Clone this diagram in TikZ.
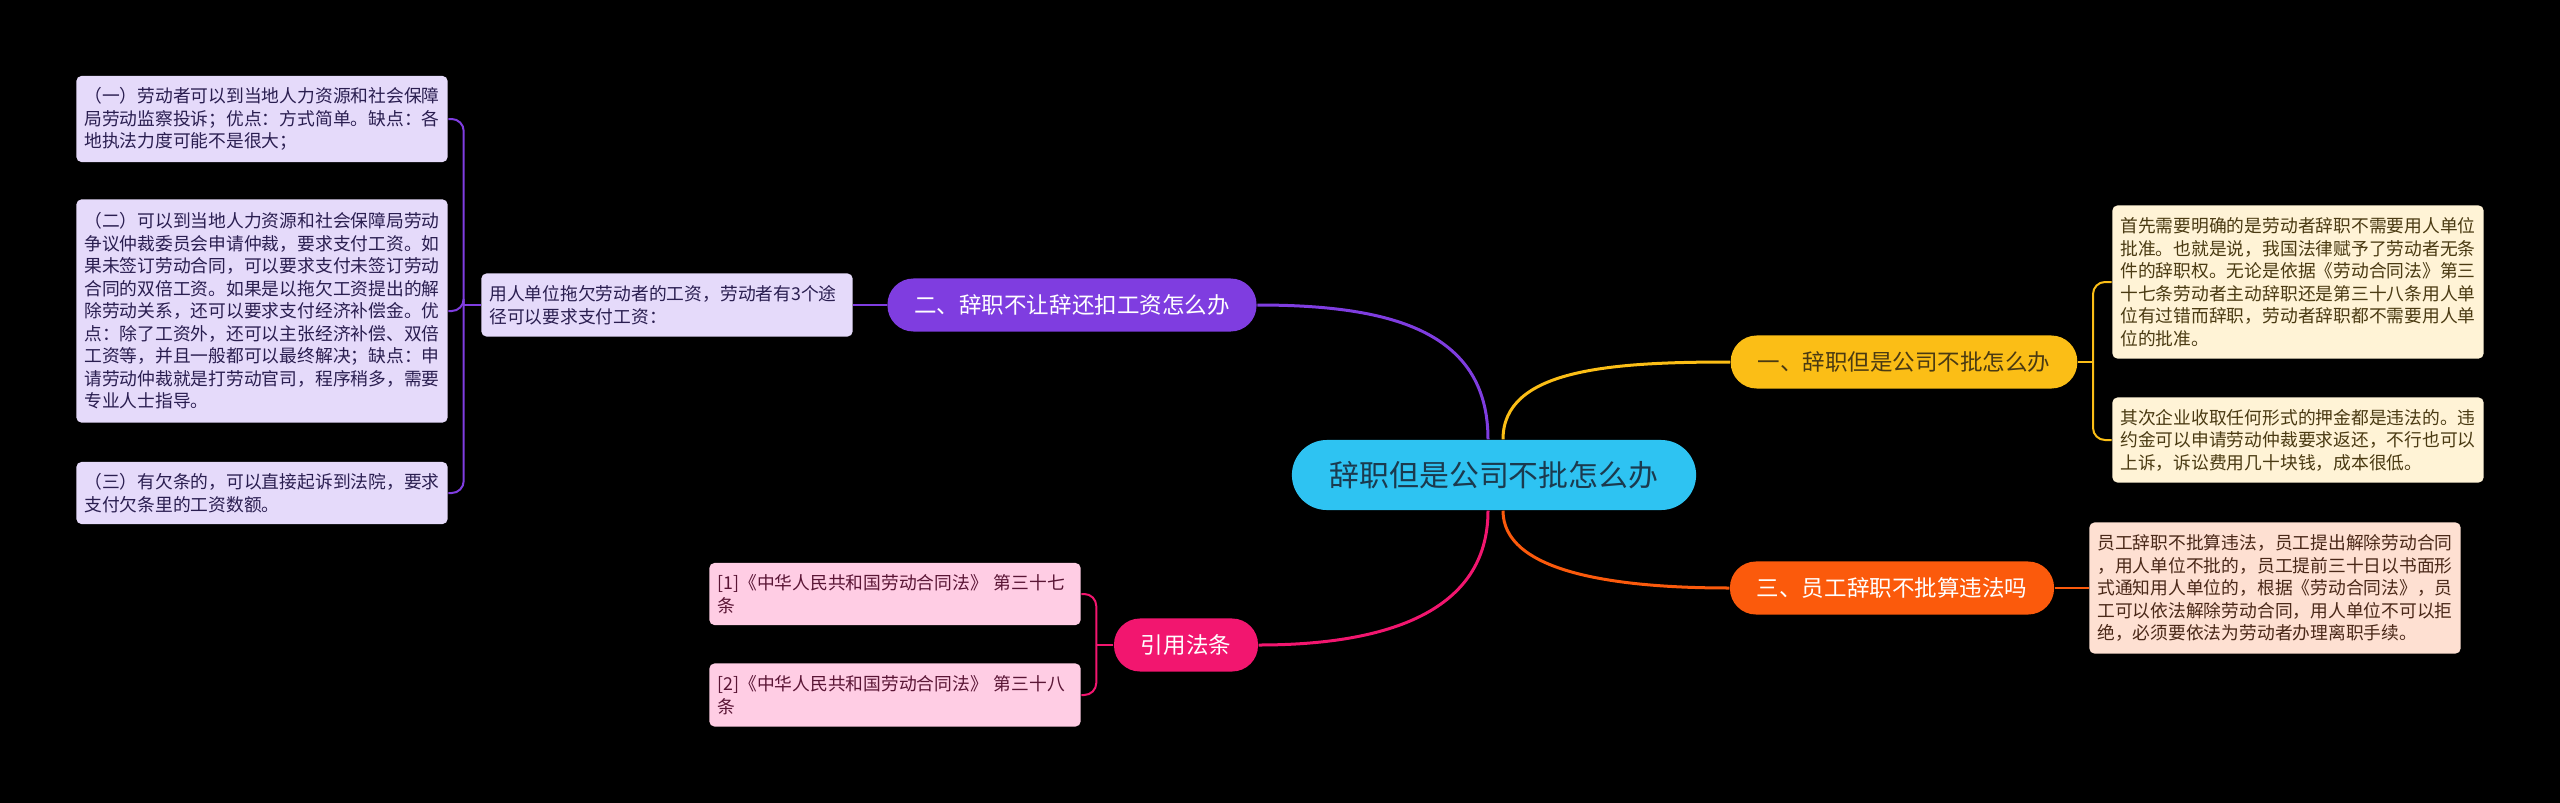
\documentclass[tikz,border=0pt]{standalone}
\usepackage{fontspec}
\setmainfont{Noto Sans CJK SC}
\usepackage{tikz}
\usetikzlibrary{calc}
\definecolor{rootcyan}{HTML}{2EC3F2}
\definecolor{roottext}{HTML}{1B3A4E}
\definecolor{branchgold}{HTML}{FBBE16}
\definecolor{branchviolet}{HTML}{7F3DE0}
\definecolor{branchflame}{HTML}{FB5A0C}
\definecolor{branchrose}{HTML}{F2166F}
\definecolor{leafviolet}{HTML}{E5DAFA}
\definecolor{leafgold}{HTML}{FFF3D6}
\definecolor{leafflame}{HTML}{FEE0D2}
\definecolor{leafrose}{HTML}{FFCDE4}
\definecolor{inkviolet}{HTML}{2A1E50}
\definecolor{inkgold}{HTML}{4A3A12}
\definecolor{inkflame}{HTML}{4A2818}
\definecolor{inkrose}{HTML}{5A1535}

\begin{document}
\begin{tikzpicture}[x=0.01cm,y=-0.01cm]

%--------------------------------------------------
% STYLES
%--------------------------------------------------

\tikzset{
rootnode/.style={
fill=rootcyan,
text=roottext,
rounded corners=0.35cm,
minimum width=4.04cm,
minimum height=0.70cm,
inner sep=0pt,
font=\fontsize{8.5}{10}\selectfont
},
branchnode/.style={
rounded corners=0.26cm,
minimum height=0.53cm,
inner xsep=0.27cm,
inner ysep=0pt,
text=white,
font=\fontsize{6.4}{7.5}\selectfont
},
leafnode/.style={
rounded corners=0.05cm,
text width=3.55cm,
inner xsep=0.08cm,
inner ysep=0.03cm,
align=left,
font=\fontsize{5.05}{6.4}\selectfont
},
link/.style={line width=0.03cm},
sublink/.style={line width=0.02cm,rounded corners=0.12cm}
}

%--------------------------------------------------
% FRAME
%--------------------------------------------------

\fill[black] (0,0) rectangle (2560,803);
\useasboundingbox (0,0) rectangle (2560,803);

%--------------------------------------------------
% ROOT AND BRANCHES
%--------------------------------------------------

\node[rootnode] (root) at (1494,475)
{辞职但是公司不批怎么办};

\node[branchnode,fill=branchgold,text=inkgold] (b1) at (1904,362)
{一、辞职但是公司不批怎么办};

\node[branchnode,fill=branchviolet] (b2) at (1072,305)
{二、辞职不让辞还扣工资怎么办};

\node[branchnode,fill=branchflame] (b3) at (1892,588)
{三、员工辞职不批算违法吗};

\node[branchnode,fill=branchrose] (b4) at (1186,645)
{引用法条};

%--------------------------------------------------
% LEAVES, RIGHT
%--------------------------------------------------

\node[leafnode,fill=leafgold,text=inkgold,minimum height=1.53cm] (y1) at (2298,282)
{首先需要明确的是劳动者辞职不需要用人单位\\
批准。也就是说，我国法律赋予了劳动者无条\\
件的辞职权。无论是依据《劳动合同法》第三\\
十七条劳动者主动辞职还是第三十八条用人单\\
位有过错而辞职，劳动者辞职都不需要用人单\\
位的批准。};

\node[leafnode,fill=leafgold,text=inkgold,minimum height=0.85cm] (y2) at (2298,440)
{其次企业收取任何形式的押金都是违法的。违\\
约金可以申请劳动仲裁要求返还，不行也可以\\
上诉，诉讼费用几十块钱，成本很低。};

\node[leafnode,fill=leafflame,text=inkflame,minimum height=1.31cm] (o1) at (2275,588)
{员工辞职不批算违法，员工提出解除劳动合同\\
，用人单位不批的，员工提前三十日以书面形\\
式通知用人单位的，根据《劳动合同法》，员\\
工可以依法解除劳动合同，用人单位不可以拒\\
绝，必须要依法为劳动者办理离职手续。};

%--------------------------------------------------
% LEAVES, LEFT
%--------------------------------------------------

\node[leafnode,fill=leafviolet,text=inkviolet,minimum height=0.63cm] (m1) at (667,305)
{用人单位拖欠劳动者的工资，劳动者有3个途\\
径可以要求支付工资：};

\node[leafnode,fill=leafviolet,text=inkviolet,minimum height=0.86cm] (p1) at (262,119)
{（一）劳动者可以到当地人力资源和社会保障\\
局劳动监察投诉；优点：方式简单。缺点：各\\
地执法力度可能不是很大；};

\node[leafnode,fill=leafviolet,text=inkviolet,minimum height=2.23cm] (p2) at (262,311)
{（二）可以到当地人力资源和社会保障局劳动\\
争议仲裁委员会申请仲裁，要求支付工资。如\\
果未签订劳动合同，可以要求支付未签订劳动\\
合同的双倍工资。如果是以拖欠工资提出的解\\
除劳动关系，还可以要求支付经济补偿金。优\\
点：除了工资外，还可以主张经济补偿、双倍\\
工资等，并且一般都可以最终解决；缺点：申\\
请劳动仲裁就是打劳动官司，程序稍多，需要\\
专业人士指导。};

\node[leafnode,fill=leafviolet,text=inkviolet,minimum height=0.62cm] (p3) at (262,493)
{（三）有欠条的，可以直接起诉到法院，要求\\
支付欠条里的工资数额。};

\node[leafnode,fill=leafrose,text=inkrose,minimum height=0.62cm] (k1) at (895,594)
{[1]《中华人民共和国劳动合同法》 第三十七\\
条};

\node[leafnode,fill=leafrose,text=inkrose,minimum height=0.63cm] (k2) at (895,695)
{[2]《中华人民共和国劳动合同法》 第三十八\\
条};

%--------------------------------------------------
% CONNECTORS
%--------------------------------------------------

\draw[link,branchgold] ($(root.north)+(9,0)$)
.. controls +(0,-70) and +(-120,0) .. (b1.west);
\draw[link,branchviolet] ($(root.north)+(-6,0)$)
.. controls +(0,-110) and +(130,0) .. (b2.east);
\draw[link,branchflame] ($(root.south)+(9,0)$)
.. controls +(0,60) and +(-120,0) .. (b3.west);
\draw[link,branchrose] ($(root.south)+(-6,0)$)
.. controls +(0,100) and +(130,0) .. (b4.east);

\coordinate (j1) at ($(b1.east)+(15,0)$);
\draw[sublink,branchgold] (b1.east) -- (j1);
\draw[sublink,branchgold] (j1) |- (y1.west);
\draw[sublink,branchgold] (j1) |- (y2.west);

\draw[sublink,branchflame] (b3.east) -- (o1.west);

\draw[sublink,branchviolet] (b2.west) -- (m1.east);
\coordinate (j2) at ($(m1.west)+(-17,0)$);
\draw[sublink,branchviolet] (m1.west) -- (j2);
\draw[sublink,branchviolet] (j2) |- (p1.east);
\draw[sublink,branchviolet] (j2) |- (p2.east);
\draw[sublink,branchviolet] (j2) |- (p3.east);

\coordinate (j3) at ($(b4.west)+(-17,0)$);
\draw[sublink,branchrose] (b4.west) -- (j3);
\draw[sublink,branchrose] (j3) |- (k1.east);
\draw[sublink,branchrose] (j3) |- (k2.east);

\end{tikzpicture}
\end{document}
